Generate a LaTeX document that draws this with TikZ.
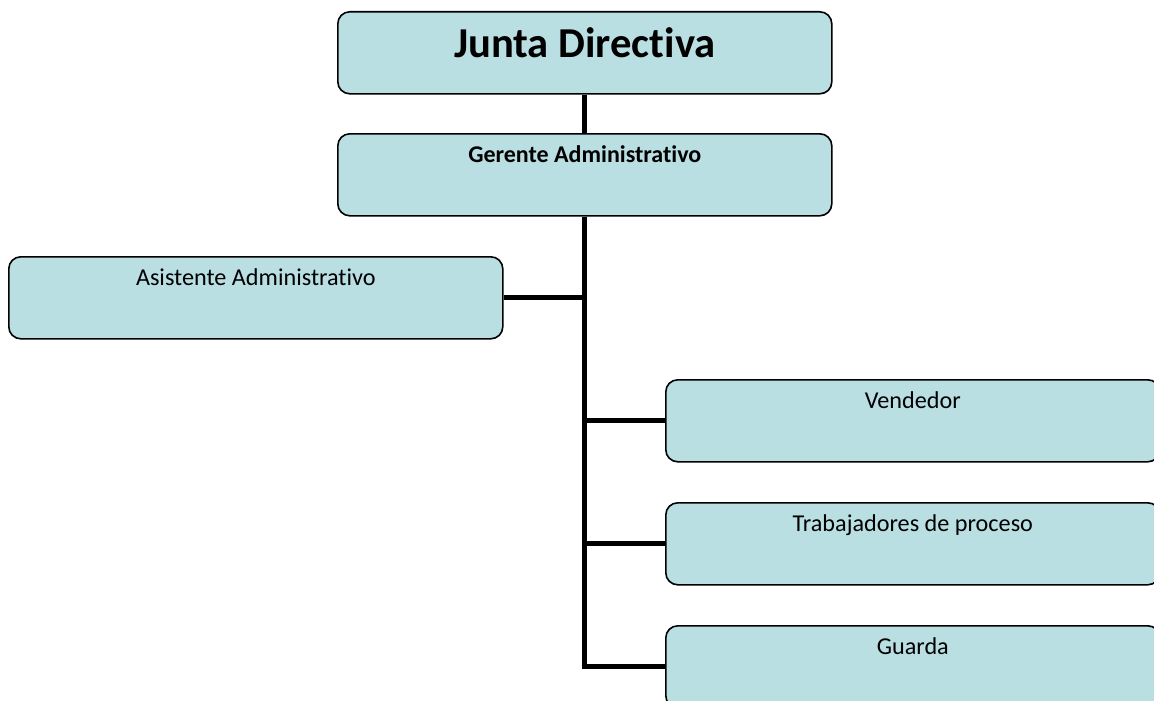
\documentclass[tikz,border=0pt]{standalone}
\usepackage{fontspec}
\setmainfont[RawFeature={-liga;-clig;-calt;-dlig}]{Carlito}
\definecolor{boxfill}{RGB}{185,223,227}
\begin{document}
\begin{tikzpicture}[x=1pt,y=-1pt,
  orgbox/.style={draw=black, line width=1.6pt, fill=boxfill, rounded corners=12pt,
    anchor=north west, minimum width=494pt, minimum height=82pt, inner xsep=0pt, inner ysep=0pt,
    text height=29pt, text depth=53pt, font=\fontsize{24.2}{29}\selectfont},
  topbox/.style={orgbox, text height=46pt, text depth=36pt, font=\fontsize{42.6}{50}\selectfont\bfseries},
  midbox/.style={orgbox, font=\fontsize{24}{29}\selectfont\bfseries},
  link/.style={line width=5pt, draw=black}]
\useasboundingbox (0,0) rectangle (1154,701);
\node[topbox] (junta) at (337,11) {Junta Directiva};
\node[midbox] (gerente) at (337,133) {Gerente Administrativo};
\node[orgbox] (asist) at (8,256) {Asistente Administrativo};
\node[orgbox] (vend) at (665,379) {Vendedor};
\node[orgbox] (trab) at (665,502) {Trabajadores de proceso};
\node[orgbox] (guarda) at (665,625) {Guarda};
\draw[link] (junta.south) -- (gerente.north);
\draw[link] (gerente.south) |- (guarda.west);
\draw[link] (asist.east) -- (asist.east -| gerente.south);
\draw[link] (vend.west) -- (vend.west -| gerente.south);
\draw[link] (trab.west) -- (trab.west -| gerente.south);
\end{tikzpicture}
\end{document}
